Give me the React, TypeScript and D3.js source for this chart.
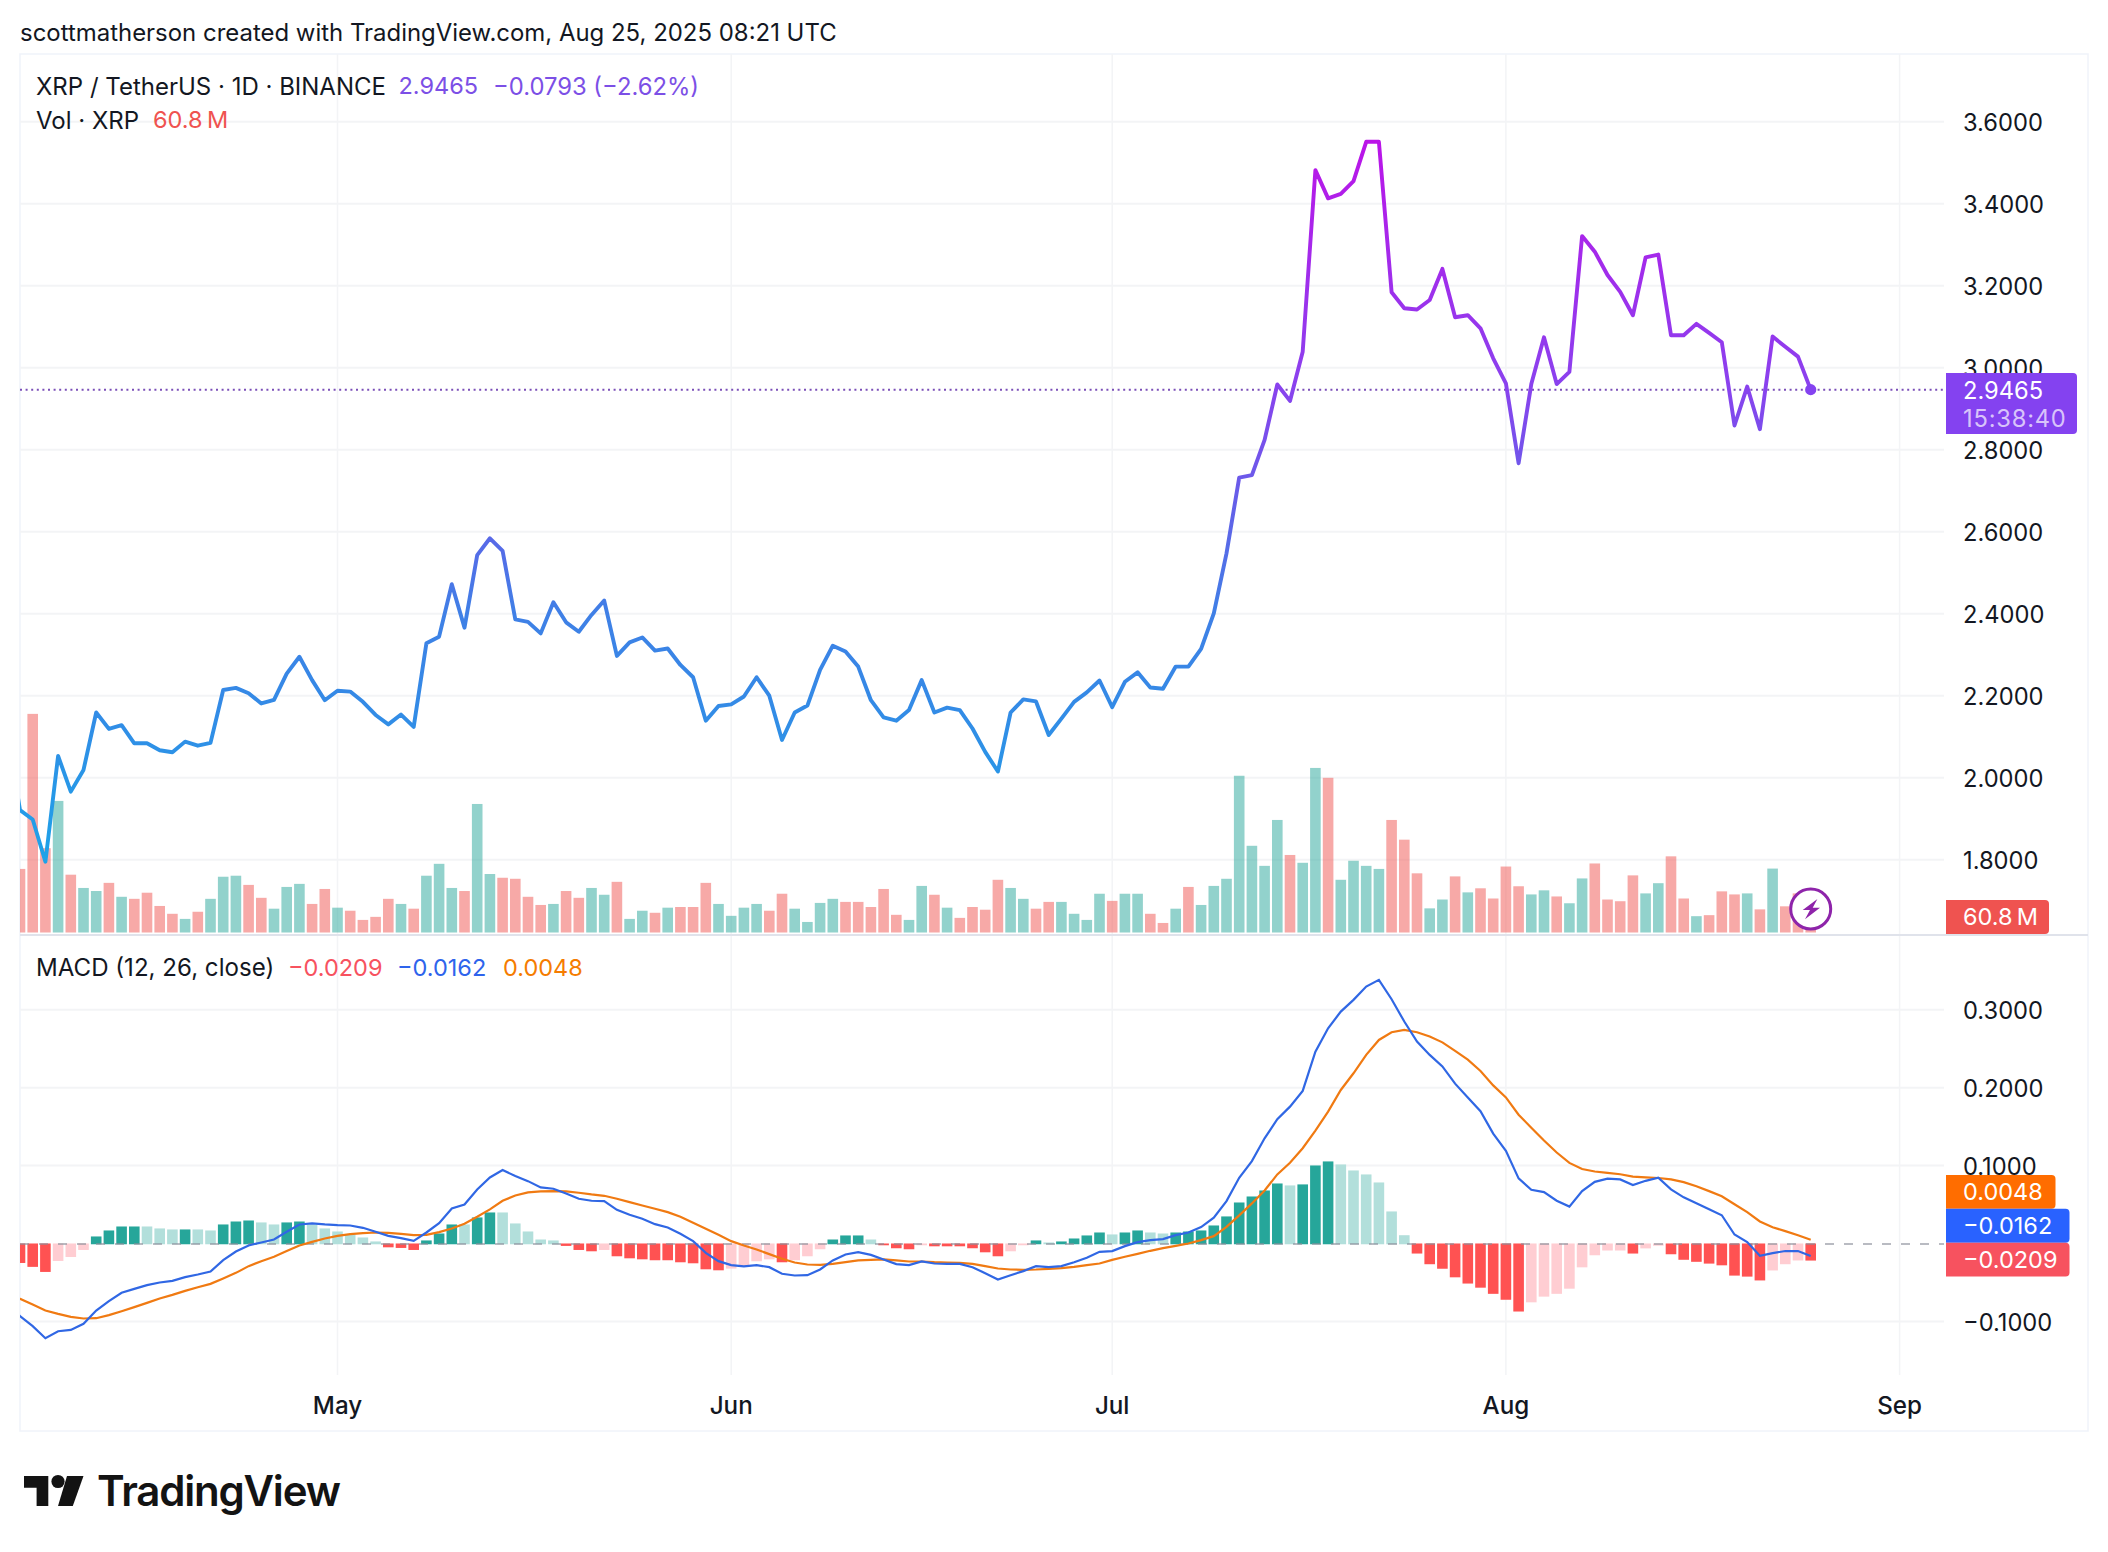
import * as d3 from "d3";

// all daily series start on Apr 5 2025, the first day is clipped by the pane edge
const closes = [
  2.11,
  1.921, 1.898, 1.795, 2.053, 1.966, 2.019, 2.159, 2.119, 2.128, 2.084,
  2.084, 2.067, 2.062, 2.088, 2.078, 2.085, 2.214, 2.219, 2.206, 2.181,
  2.19, 2.254, 2.295, 2.238, 2.189, 2.212, 2.21, 2.185, 2.153, 2.13,
  2.154, 2.124, 2.328, 2.344, 2.472, 2.366, 2.543, 2.584, 2.553, 2.386,
  2.38, 2.352, 2.428, 2.379, 2.356, 2.397, 2.432, 2.297, 2.33, 2.342,
  2.31, 2.315, 2.275, 2.245, 2.139, 2.175, 2.179, 2.198, 2.245, 2.2,
  2.092, 2.159, 2.176, 2.263, 2.322, 2.308, 2.271, 2.189, 2.147, 2.139,
  2.165, 2.238, 2.159, 2.171, 2.165, 2.12, 2.063, 2.015, 2.159, 2.191,
  2.186, 2.104, 2.144, 2.185, 2.208, 2.237, 2.172, 2.234, 2.257, 2.22,
  2.217, 2.271, 2.271, 2.314, 2.401, 2.547, 2.732, 2.738, 2.824, 2.959,
  2.919, 3.039, 3.482, 3.413, 3.424, 3.455, 3.551, 3.551, 3.184, 3.145,
  3.142, 3.165, 3.241, 3.123, 3.128, 3.096, 3.023, 2.962, 2.767, 2.96,
  3.074, 2.96, 2.99, 3.321, 3.283, 3.226, 3.185, 3.128, 3.269, 3.276,
  3.079, 3.079, 3.107, 3.085, 3.062, 2.859, 2.954, 2.85, 3.076, 3.051, 3.027, 2.9465,
];

// millions of XRP
const volumes = [
  90,
  187, 643, 248, 387, 170, 131, 122, 146, 105, 99,
  117, 78, 55, 40, 61, 99, 164, 167, 140, 102,
  70, 134, 143, 84, 128, 73, 64, 37, 46, 99,
  84, 70, 167, 202, 131, 122, 378, 172, 161, 158,
  105, 81, 84, 122, 102, 131, 111, 149, 40, 64,
  58, 73, 75, 75, 146, 84, 49, 73, 84, 64,
  114, 70, 31, 87, 99, 90, 90, 75, 128, 52,
  37, 137, 111, 73, 43, 75, 67, 155, 131, 99,
  70, 90, 90, 55, 37, 114, 93, 114, 114, 55,
  28, 70, 134, 81, 137, 158, 461, 255, 196, 331,
  228, 205, 484, 455, 155, 211, 196, 187, 331, 273,
  174, 71, 97, 165, 118, 130, 100, 194, 136, 112,
  124, 106, 86, 159, 203, 97, 92, 168, 115, 145,
  224, 100, 48, 51, 121, 112, 115, 68, 188, 77, 115, 60.8,
];

const volumeUp = [
  0,
  0, 0, 0, 1, 0, 1, 1, 0, 1, 0,
  0, 0, 0, 1, 0, 1, 1, 1, 0, 0,
  1, 1, 1, 0, 0, 1, 0, 0, 0, 0,
  1, 0, 1, 1, 1, 0, 1, 1, 0, 0,
  0, 0, 1, 0, 0, 1, 1, 0, 1, 1,
  0, 1, 0, 0, 0, 1, 1, 1, 1, 0,
  0, 1, 1, 1, 1, 0, 0, 0, 0, 0,
  1, 1, 0, 1, 0, 0, 0, 0, 1, 1,
  0, 0, 1, 1, 1, 1, 0, 1, 1, 0,
  0, 1, 0, 1, 1, 1, 1, 1, 1, 1,
  0, 1, 1, 0, 1, 1, 1, 1, 0, 0,
  0, 1, 1, 0, 1, 0, 0, 0, 0, 1,
  1, 0, 1, 1, 0, 0, 0, 0, 1, 1,
  0, 0, 1, 0, 0, 0, 1, 0, 1, 0, 0, 0,
];

const histogram = [
  -0.02,
  -0.024, -0.029, -0.0355, -0.0214, -0.0163, -0.0073, 0.009, 0.0167, 0.0218, 0.0218,
  0.0218, 0.0193, 0.018, 0.018, 0.018, 0.0167, 0.0244, 0.0282, 0.0295, 0.027,
  0.0244, 0.027, 0.0282, 0.0244, 0.0193, 0.0154, 0.0116, 0.0077, 0.0026, -0.0039,
  -0.0047, -0.0073, 0.0039, 0.0128, 0.0244, 0.0244, 0.0334, 0.0398, 0.0398, 0.0257,
  0.0154, 0.0051, 0.0039, -0.0021, -0.0073, -0.009, -0.0073, -0.0154, -0.018, -0.0193,
  -0.0205, -0.0205, -0.0231, -0.0244, -0.0321, -0.0334, -0.0312, -0.0282, -0.0218, -0.0193,
  -0.0231, -0.0205, -0.0154, -0.0064, 0.0051, 0.0103, 0.0103, 0.0051, -0.0013, -0.0051,
  -0.0064, -0.0013, -0.0026, -0.0026, -0.0026, -0.0051, -0.0103, -0.0154, -0.009, -0.0013,
  0.0039, 0.0013, 0.0026, 0.0064, 0.0103, 0.0141, 0.0116, 0.0141, 0.0167, 0.0141,
  0.0128, 0.0141, 0.0154, 0.0167, 0.0231, 0.0347, 0.0526, 0.0603, 0.068, 0.077,
  0.0745, 0.0758, 0.1001, 0.1053, 0.1014, 0.0937, 0.0886, 0.0783, 0.0411, 0.0106,
  -0.0119, -0.0256, -0.0314, -0.0424, -0.0504, -0.0557, -0.0636, -0.0712, -0.0863, -0.0745,
  -0.0672, -0.0636, -0.057, -0.0296, -0.0141, -0.008, -0.008, -0.0119, -0.0053, -0.0018,
  -0.0128, -0.0199, -0.0225, -0.0248, -0.027, -0.0402, -0.0415, -0.0464, -0.0336, -0.0256, -0.0208, -0.0209,
];

const histogramFaded = [
  0,
  0, 0, 0, 1, 1, 1, 0, 0, 0, 0,
  1, 1, 1, 0, 1, 1, 0, 0, 0, 1,
  1, 0, 0, 1, 1, 1, 1, 1, 1, 0,
  0, 0, 0, 0, 0, 1, 0, 0, 1, 1,
  1, 1, 1, 0, 0, 0, 1, 0, 0, 0,
  0, 0, 0, 0, 0, 0, 1, 1, 1, 1,
  0, 1, 1, 1, 0, 0, 0, 1, 0, 0,
  0, 1, 0, 0, 0, 0, 0, 0, 1, 1,
  0, 1, 0, 0, 0, 0, 1, 0, 0, 1,
  1, 0, 0, 0, 0, 0, 0, 0, 0, 0,
  1, 0, 0, 0, 1, 1, 1, 1, 1, 1,
  0, 0, 0, 0, 0, 0, 0, 0, 0, 1,
  1, 1, 1, 1, 1, 1, 1, 0, 1, 1,
  0, 0, 0, 0, 0, 0, 0, 0, 1, 1, 1, 0,
];

const macdLine = [
  -0.075,
  -0.0933, -0.1061, -0.1216, -0.1126, -0.1109, -0.1031, -0.086, -0.074, -0.0633, -0.0582,
  -0.0535, -0.0501, -0.0479, -0.0432, -0.0398, -0.036, -0.0214, -0.0103, -0.0026, 0.0013,
  0.0051, 0.015, 0.0244, 0.0257, 0.0244, 0.0235, 0.0231, 0.0201, 0.015, 0.0098,
  0.0068, 0.0034, 0.0141, 0.0261, 0.0449, 0.05, 0.0693, 0.0847, 0.0942, 0.0865,
  0.08, 0.0719, 0.0702, 0.0642, 0.0574, 0.0548, 0.0544, 0.0432, 0.0368, 0.0317,
  0.0248, 0.0205, 0.0124, 0.003, -0.012, -0.0227, -0.0278, -0.0295, -0.0278, -0.0304,
  -0.0389, -0.0411, -0.0407, -0.0334, -0.0218, -0.0141, -0.0111, -0.0146, -0.0205, -0.0265,
  -0.0278, -0.0231, -0.0257, -0.0261, -0.0261, -0.0304, -0.0381, -0.0462, -0.0407, -0.0355,
  -0.0291, -0.0304, -0.0291, -0.024, -0.0184, -0.0107, -0.0098, -0.0034, 0.0017, 0.0043,
  0.0056, 0.0107, 0.0141, 0.021, 0.033, 0.0544, 0.0843, 0.1057, 0.135, 0.1594,
  0.1756, 0.1958, 0.2462, 0.2762, 0.2976, 0.3126, 0.3297, 0.3383, 0.3134, 0.2848,
  0.2591, 0.242, 0.2272, 0.2051, 0.1874, 0.1697, 0.141, 0.1189, 0.0835, 0.069,
  0.0659, 0.0548, 0.0473, 0.0672, 0.0791, 0.0831, 0.0822, 0.0751, 0.0804, 0.0844,
  0.0694, 0.0592, 0.0517, 0.0438, 0.0362, 0.0115, 0.0018, -0.0159, -0.0124, -0.0097, -0.0097, -0.0162,
];

const signalLine = [
  -0.0625,
  -0.071, -0.0783, -0.086, -0.0903, -0.0942, -0.0963, -0.0959, -0.092, -0.0869, -0.0817,
  -0.0762, -0.0706, -0.0659, -0.0608, -0.0561, -0.0518, -0.0449, -0.0377, -0.0291, -0.0227,
  -0.0171, -0.0098, -0.0026, 0.0021, 0.0064, 0.0098, 0.012, 0.0133, 0.0141, 0.0137,
  0.0124, 0.0107, 0.0111, 0.0146, 0.0193, 0.0253, 0.0342, 0.0437, 0.0548, 0.0616,
  0.0655, 0.0668, 0.0672, 0.0668, 0.0651, 0.0629, 0.0612, 0.0574, 0.0531, 0.0488,
  0.0445, 0.0402, 0.0342, 0.0265, 0.0188, 0.0111, 0.003, -0.0026, -0.0077, -0.0137,
  -0.0197, -0.0244, -0.027, -0.0274, -0.0261, -0.024, -0.0218, -0.021, -0.0205, -0.0218,
  -0.0231, -0.0231, -0.024, -0.0244, -0.0248, -0.0261, -0.0291, -0.0321, -0.0334, -0.0338,
  -0.0334, -0.0325, -0.0317, -0.03, -0.0278, -0.0257, -0.021, -0.0171, -0.0133, -0.0094,
  -0.006, -0.003, 0, 0.0043, 0.0094, 0.0214, 0.036, 0.0514, 0.068, 0.0886,
  0.1036, 0.1222, 0.1449, 0.1692, 0.197, 0.2184, 0.242, 0.2612, 0.2711, 0.2741,
  0.2711, 0.2655, 0.2581, 0.2471, 0.236, 0.2214, 0.2029, 0.1874, 0.1653, 0.1485,
  0.1322, 0.1167, 0.1034, 0.0955, 0.0924, 0.0906, 0.0888, 0.0857, 0.0849, 0.084,
  0.0822, 0.0787, 0.0734, 0.0672, 0.0606, 0.0504, 0.0402, 0.0283, 0.0208, 0.0159, 0.0106, 0.0048,
];

const priceTicks = [1.8, 2, 2.2, 2.4, 2.6, 2.8, 3, 3.2, 3.4, 3.6];
const macdTicks = [-0.1, 0.1, 0.2, 0.3];
const lastPrice = 2.9465;

const WIDTH = 2108;
const HEIGHT = 1552;
const LEFT = 20;
const PLOT_RIGHT = 1944;
const FRAME_RIGHT = 2088;
const FRAME_TOP = 54;
const FRAME_BOTTOM = 1431;
const DIVIDER = 935;
const PANE_BOTTOM = 1375;
const BAR_W = 10.6;
const FONT = "Inter, 'Noto Sans', sans-serif";
const GRID = "#f3f4f6";
const AXIS_X = 1963;

const dates = d3.utcDay.range(new Date(Date.UTC(2025, 3, 5)), new Date(Date.UTC(2025, 7, 26)));
const x = d3
  .scaleUtc()
  .domain([new Date(Date.UTC(2025, 3, 6)), new Date(Date.UTC(2025, 7, 25))])
  .range([LEFT, LEFT + 141 * 12.7]);
const y = d3.scaleLinear().domain([3.6, 1.8]).range([121.7, 859.7]);
const yVol = d3.scaleLinear().domain([0, 660]).range([932.5, 932.5 - 660 * 0.34]);
const yMacd = d3.scaleLinear().domain([0.3, -0.1]).range([1009.7, 1321.4]);

const priceLine = d3.line<number>().x((_, i) => x(dates[i])).y((d) => y(d));
const macdPath = d3.line<number>().x((_, i) => x(dates[i])).y((d) => yMacd(d));
const fmt = d3.format(".4f");
const months = d3.utcMonth.range(new Date(Date.UTC(2025, 4, 1)), new Date(Date.UTC(2025, 8, 2)));
const monthFmt = d3.utcFormat("%b");

function histColor(v: number, faded: number) {
  if (v >= 0) return faded ? "#b2dfdb" : "#26a69a";
  return faded ? "#ffcdd2" : "#ff5252";
}

function Tag(props: { x2: number; y: number; h: number; fill: string; label: string }) {
  return (
    <g>
      <path
        d={`M1946,${props.y}H${props.x2 - 4}q4,0 4,4V${props.y + props.h - 4}q0,4 -4,4H1946Z`}
        fill={props.fill}
      />
      <text x={AXIS_X} y={props.y + props.h / 2} dy="0.36em" fill="#fff" fontSize={23.5}>
        {props.label}
      </text>
    </g>
  );
}

export default function App() {
  return (
    <svg
      width={WIDTH}
      height={HEIGHT}
      style={{ position: "absolute", top: 0, left: 0, background: "#fff" }}
      fontFamily={FONT}
    >
      <defs>
        <linearGradient id="priceGrad" gradientUnits="userSpaceOnUse" x1={0} x2={0} y1={140} y2={860}>
          <stop offset="0" stopColor="#bb14e8" />
          <stop offset="0.33" stopColor="#8c40ee" />
          <stop offset="0.54" stopColor="#5c66e8" />
          <stop offset="0.66" stopColor="#3f80e6" />
          <stop offset="0.78" stopColor="#348ae6" />
          <stop offset="1" stopColor="#1ea2e8" />
        </linearGradient>
        <clipPath id="mainClip">
          <rect x={LEFT} y={FRAME_TOP} width={PLOT_RIGHT - LEFT} height={DIVIDER - FRAME_TOP} />
        </clipPath>
        <clipPath id="macdClip">
          <rect x={LEFT} y={DIVIDER} width={PLOT_RIGHT - LEFT} height={PANE_BOTTOM - DIVIDER} />
        </clipPath>
      </defs>

      <text x={20} y={32} dy="0.36em" fontSize={23.95} fill="#131722">
        scottmatherson created with TradingView.com, Aug 25, 2025 08:21 UTC
      </text>

      {/* frame and grid */}
      <rect
        x={LEFT}
        y={FRAME_TOP}
        width={FRAME_RIGHT - LEFT}
        height={FRAME_BOTTOM - FRAME_TOP}
        fill="none"
        stroke="#f0f3fa"
        strokeWidth={1.5}
      />
      {months.map((m) => (
        <line
          key={m.getTime()}
          x1={x(m)}
          x2={x(m)}
          y1={FRAME_TOP}
          y2={PANE_BOTTOM}
          stroke={GRID}
          strokeWidth={1.5}
        />
      ))}
      {priceTicks.map((t) => (
        <line key={t} x1={LEFT} x2={PLOT_RIGHT} y1={y(t)} y2={y(t)} stroke={GRID} strokeWidth={2} />
      ))}
      {macdTicks.map((t) => (
        <line key={t} x1={LEFT} x2={PLOT_RIGHT} y1={yMacd(t)} y2={yMacd(t)} stroke={GRID} strokeWidth={2} />
      ))}
      <line x1={LEFT} x2={FRAME_RIGHT} y1={DIVIDER} y2={DIVIDER} stroke="#e0e3eb" strokeWidth={2} />

      {/* volume and price */}
      <g clipPath="url(#mainClip)">
        {volumes.map((v, i) => (
          <rect
            key={i}
            x={x(dates[i]) - BAR_W / 2}
            y={yVol(v)}
            width={BAR_W}
            height={yVol(0) - yVol(v)}
            fill={volumeUp[i] ? "#26a69a" : "#ef5350"}
            opacity={0.5}
          />
        ))}
        <line
          x1={LEFT}
          x2={PLOT_RIGHT}
          y1={y(lastPrice)}
          y2={y(lastPrice)}
          stroke="#7b4fb8"
          strokeWidth={2}
          strokeDasharray="2 3.6"
        />
        <path
          d={priceLine(closes) ?? ""}
          fill="none"
          stroke="url(#priceGrad)"
          strokeWidth={3.9}
          strokeLinejoin="round"
        />
        <circle cx={x(dates[dates.length - 1])} cy={y(lastPrice)} r={5.6} fill="#8442f0" />
      </g>

      {/* lightning button */}
      <g transform="translate(1810.7,909)">
        <circle r={20} fill="#fff" stroke="#8e24aa" strokeWidth={3} />
        <path d="M6.7,-10L-8,1H-0.7L-5.7,10.3L9.3,-1.3H2Z" fill="#8e24aa" />
      </g>

      {/* macd pane */}
      <g clipPath="url(#macdClip)">
        {histogram.map((v, i) => (
          <rect
            key={i}
            x={x(dates[i]) - BAR_W / 2}
            y={Math.min(yMacd(v), yMacd(0))}
            width={BAR_W}
            height={Math.abs(yMacd(v) - yMacd(0)) + 0.8}
            fill={histColor(v, histogramFaded[i])}
          />
        ))}
        <line
          x1={LEFT}
          x2={PLOT_RIGHT}
          y1={yMacd(0) + 0.5}
          y2={yMacd(0) + 0.5}
          stroke="#8a8e99"
          strokeOpacity={0.6}
          strokeWidth={2}
          strokeDasharray="9 10"
        />
        <path d={macdPath(signalLine) ?? ""} fill="none" stroke="#f07a12" strokeWidth={2.2} />
        <path d={macdPath(macdLine) ?? ""} fill="none" stroke="#3067e4" strokeWidth={2.2} />
      </g>

      {/* legends */}
      <g fontSize={23.5} fill="#131722">
        <text x={36} y={86} dy="0.36em" fontSize={24}>XRP / TetherUS · 1D · BINANCE</text>
        <text x={398.5} y={86} dy="0.36em" fill="#7c4fe6">2.9465</text>
        <text x={493} y={86} dy="0.36em" fill="#7c4fe6" fontSize={23.8}>−0.0793 (−2.62%)</text>
        <text x={36} y={120} dy="0.36em" fontSize={24}>Vol · XRP</text>
        <text x={153} y={120} dy="0.36em" fill="#ef5350">60.8{"\u2009"}M</text>
        <text x={36} y={967.5} dy="0.36em" fontSize={24.1}>MACD (12, 26, close)</text>
        <text x={288} y={967.5} dy="0.36em" fill="#f7525f">−0.0209</text>
        <text x={397} y={967.5} dy="0.36em" fill="#2e64ec">−0.0162</text>
        <text x={503} y={967.5} dy="0.36em" fill="#f57c00">0.0048</text>
      </g>

      {/* axes */}
      <g fontSize={23.7} fill="#131722">
        {priceTicks.map((t) => (
          <text key={t} x={AXIS_X} y={y(t) + 0.5} dy="0.36em">{fmt(t)}</text>
        ))}
        {macdTicks.map((t) => (
          <text key={t} x={AXIS_X} y={yMacd(t) + 1} dy="0.36em">{fmt(t)}</text>
        ))}
        {months.map((m) => (
          <text key={m.getTime()} x={x(m)} y={1405.5} dy="0.36em" textAnchor="middle" fontWeight={500} fontSize={24.2}>
            {monthFmt(m)}
          </text>
        ))}
      </g>

      {/* axis tags */}
      <g fontSize={23.7}>
        <path d="M1946,373H2073q4,0 4,4V430q0,4 -4,4H1946Z" fill="#8442f0" />
        <text x={AXIS_X} y={390} dy="0.36em" fill="#fff">2.9465</text>
        <text x={AXIS_X} y={418} dy="0.36em" fill="#fff" fillOpacity={0.7} letterSpacing={0.8}>15:38:40</text>
        <Tag x2={2049} y={900} h={34} fill="#ef5350" label={"60.8\u2009M"} />
        <Tag x2={2055.5} y={1175} h={33.7} fill="#ff6d00" label={fmt(signalLine[signalLine.length - 1])} />
        <Tag x2={2069.5} y={1208.7} h={34.1} fill="#2962ff" label={fmt(macdLine[macdLine.length - 1])} />
        <Tag x2={2069.5} y={1242.8} h={33.7} fill="#f7525f" label={fmt(histogram[histogram.length - 1])} />
      </g>

      {/* TradingView logo */}
      <g fill="#131313">
        <path d="M24,1476H48.3V1506H36.6V1487.7H24Z" />
        <circle cx={58} cy={1481.5} r={6.6} />
        <path d="M67,1476H83.5L72.8,1506H58Z" />
        <text x={97} y={1506} fontSize={42} fontWeight={600} letterSpacing={-1.2}>TradingView</text>
      </g>
    </svg>
  );
}
